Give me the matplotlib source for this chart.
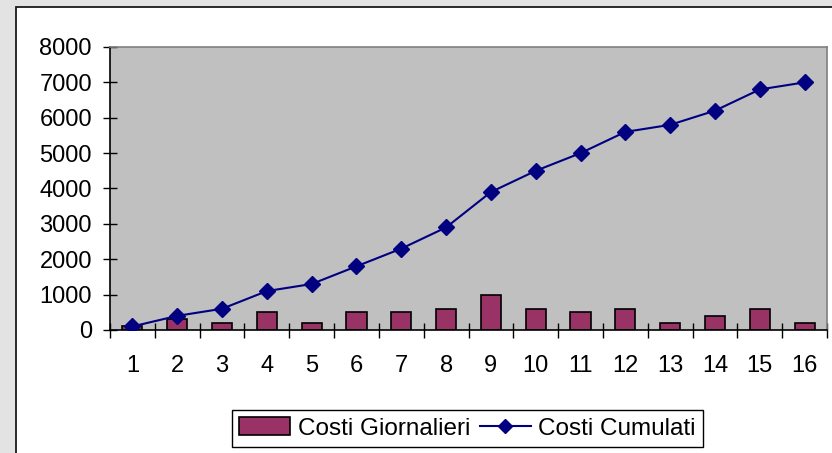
import matplotlib
matplotlib.use("Agg")
import matplotlib.pyplot as plt
from matplotlib.patches import Rectangle
import numpy as np

plt.rcParams['font.family'] = ['Liberation Sans', 'DejaVu Sans']

days = list(range(1, 17))
costi_giornalieri = [100, 300, 200, 500, 200, 500, 500, 600, 1000, 600, 500, 600, 200, 400, 600, 200]
costi_cumulati = [100, 400, 600, 1100, 1300, 1800, 2300, 2900, 3900, 4500, 5000, 5600, 5800, 6200, 6800, 7000]
y_ticks = [0, 1000, 2000, 3000, 4000, 5000, 6000, 7000, 8000]

W, H = 832, 453
fig = plt.figure(figsize=(W / 100, H / 100), dpi=100, facecolor='#e3e3e3')

# white chart panel (background axes)
bg = fig.add_axes([0, 0, 1, 1], zorder=-5)
bg.set_xlim(0, W)
bg.set_ylim(H, 0)
bg.axis('off')
bg.add_patch(Rectangle((16, 7), W, H, facecolor='white', edgecolor='#1a1a1a', lw=1.3))

left, right, top, bottom = 110, 827, 47, 330
ax = fig.add_axes([left / W, 1 - bottom / H, (right - left) / W, (bottom - top) / H], zorder=1)
ax.set_facecolor('#c0c0c0')

bars = ax.bar(days, costi_giornalieri, width=0.45, color='#993366', edgecolor='black',
              linewidth=1.2, label='Costi Giornalieri', zorder=2)
line, = ax.plot(days, costi_cumulati, color='#000080', lw=1.5, marker='D', markersize=8.5,
                label='Costi Cumulati', zorder=3)

ax.set_xlim(0.5, 16.5)
ax.set_ylim(0, 8000)
ax.set_yticks(y_ticks)
ax.set_yticklabels([str(v) for v in y_ticks])
ax.set_xticks(days)
ax.set_xticklabels([str(d) for d in days])
ax.set_xticks(np.arange(0.5, 17, 1), minor=True)

ax.tick_params(axis='x', which='major', length=0, pad=18, labelsize=17)
ax.tick_params(axis='x', which='minor', direction='inout', length=10.8, width=1, color='black')
ax.tick_params(axis='y', which='major', direction='inout', length=10, width=1, pad=8,
               labelsize=17, color='black')

for s in ['top', 'right']:
    ax.spines[s].set_color('#808080')
    ax.spines[s].set_linewidth(1.2)
for s in ['left', 'bottom']:
    ax.spines[s].set_color('black')
    ax.spines[s].set_linewidth(1.2)

leg = fig.legend([bars, line], ['Costi Giornalieri', 'Costi Cumulati'], loc='center',
                 bbox_to_anchor=((231 + 704) / 2 / W, 1 - 428.5 / H),
                 ncol=2, fontsize=17.5, frameon=True, fancybox=False, framealpha=1,
                 edgecolor='black', handlelength=2.1, handletextpad=0.3,
                 columnspacing=0.4, borderpad=0.3, markerscale=0.85)
leg.get_frame().set_linewidth(1.0)
leg.set_zorder(10)

fig.savefig('out.png', dpi=100, facecolor=fig.get_facecolor())
